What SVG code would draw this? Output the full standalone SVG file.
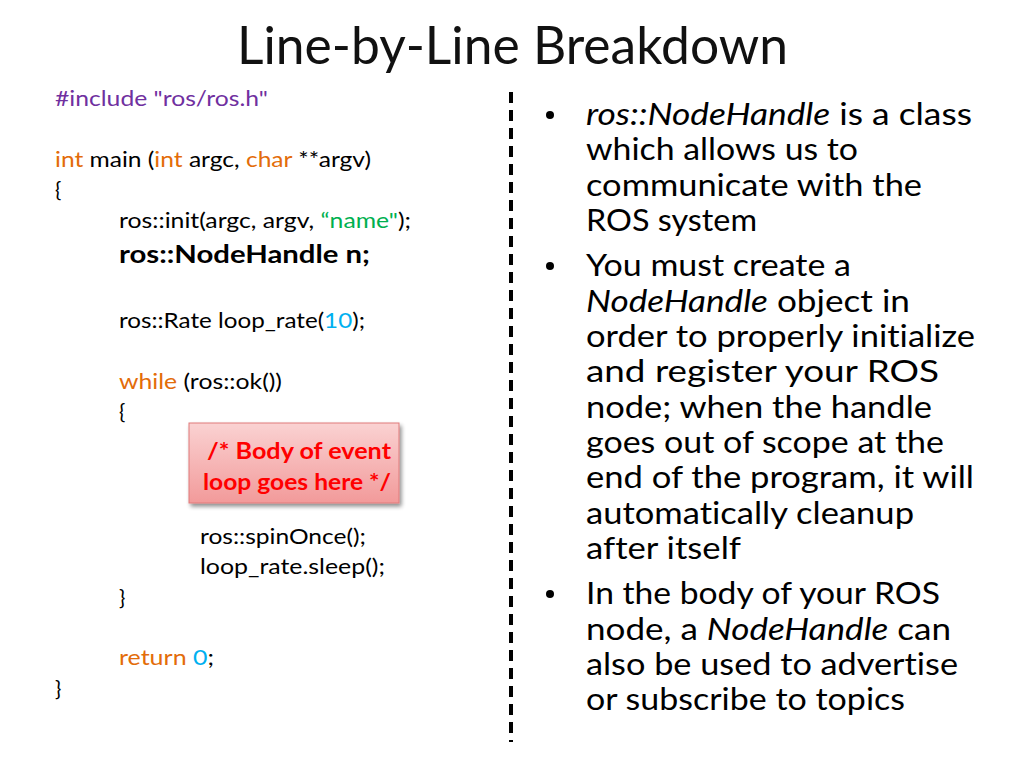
<svg xmlns="http://www.w3.org/2000/svg" width="1024" height="768" viewBox="0 0 1024 768">
<defs>
<style>
text{font-family:Lato,"Liberation Sans","DejaVu Sans",sans-serif;fill:#000;font-variant-ligatures:none;font-feature-settings:"liga" 0}
.title{font-size:52px;fill:#111}
.code{font-size:21px}
.big{font-size:25px;font-weight:bold}
.kw{fill:#e36c09}
.inc{fill:#7030a0}
.str{fill:#00b050}
.num{fill:#00b0f0}
.note{font-size:22px;font-weight:bold;fill:#ff0000}
.body{font-size:31px}
.it{font-style:italic}
</style>
<linearGradient id="redgrad" x1="0" y1="0" x2="0" y2="1">
<stop offset="0" stop-color="#fad2d2"/>
<stop offset="1" stop-color="#f29a9a"/>
</linearGradient>
<filter id="shadow" x="-10%" y="-10%" width="130%" height="140%">
<feGaussianBlur in="SourceAlpha" stdDeviation="2"/>
<feOffset dx="2" dy="3" result="b"/>
<feComponentTransfer><feFuncA type="linear" slope="0.45"/></feComponentTransfer>
<feMerge><feMergeNode/><feMergeNode in="SourceGraphic"/></feMerge>
</filter>
</defs>
<rect width="1024" height="768" fill="#fff"/>

<text class="title" x="237" y="64" textLength="551" lengthAdjust="spacingAndGlyphs">Line-by-Line Breakdown</text>

<g id="code">
<text class="code inc" x="55" y="106" textLength="213" lengthAdjust="spacingAndGlyphs">#include "ros/ros.h"</text>
<text class="code" x="55" y="167" textLength="316" lengthAdjust="spacingAndGlyphs"><tspan class="kw">int</tspan> main (<tspan class="kw">int</tspan> argc, <tspan class="kw">char</tspan> **argv)</text>
<text class="code" x="55" y="197">{</text>
<text class="code" x="119" y="228" textLength="292" lengthAdjust="spacingAndGlyphs">ros::init(argc, argv, <tspan class="str">“name"</tspan>);</text>
<text class="big" x="119" y="263" textLength="251" lengthAdjust="spacingAndGlyphs">ros::NodeHandle n;</text>
<text class="code" x="119" y="328" textLength="246" lengthAdjust="spacingAndGlyphs">ros::Rate loop_rate(<tspan class="num">10</tspan>);</text>
<text class="code" x="119" y="389" textLength="163" lengthAdjust="spacingAndGlyphs"><tspan class="kw">while</tspan> (ros::ok())</text>
<text class="code" x="119" y="419">{</text>
<text class="code" x="200" y="544" textLength="166" lengthAdjust="spacingAndGlyphs">ros::spinOnce();</text>
<text class="code" x="200" y="574" textLength="185" lengthAdjust="spacingAndGlyphs">loop_rate.sleep();</text>
<text class="code" x="119" y="605">}</text>
<text class="code" x="119" y="665" textLength="95" lengthAdjust="spacingAndGlyphs"><tspan class="kw">return</tspan> <tspan class="num">0</tspan>;</text>
<text class="code" x="55" y="696">}</text>
</g>

<g id="note">
<rect x="189" y="423" width="210" height="80" fill="url(#redgrad)" stroke="#e07a7a" stroke-width="1" filter="url(#shadow)"/>
<text class="note" x="207" y="459" textLength="184" lengthAdjust="spacingAndGlyphs">/* Body of event</text>
<text class="note" x="203" y="490" textLength="188" lengthAdjust="spacingAndGlyphs">loop goes here */</text>
</g>

<line id="divider" x1="511" y1="92" x2="511" y2="742" stroke="#000" stroke-width="4" stroke-dasharray="11 7"/>

<g id="bullets">
<circle cx="550" cy="115" r="4"/>
<circle cx="550" cy="266" r="4"/>
<circle cx="550" cy="594" r="4"/>
<text class="body" x="586" y="125" textLength="386" lengthAdjust="spacingAndGlyphs"><tspan class="it">ros::NodeHandle</tspan> is a class</text>
<text class="body" x="586" y="160" textLength="272" lengthAdjust="spacingAndGlyphs">which allows us to</text>
<text class="body" x="586" y="196" textLength="336" lengthAdjust="spacingAndGlyphs">communicate with the</text>
<text class="body" x="586" y="231" textLength="171" lengthAdjust="spacingAndGlyphs">ROS system</text>
<text class="body" x="586" y="276" textLength="265" lengthAdjust="spacingAndGlyphs">You must create a</text>
<text class="body" x="586" y="312" textLength="324" lengthAdjust="spacingAndGlyphs"><tspan class="it">NodeHandle</tspan> object in</text>
<text class="body" x="586" y="347" textLength="389" lengthAdjust="spacingAndGlyphs">order to properly initialize</text>
<text class="body" x="586" y="382" textLength="353" lengthAdjust="spacingAndGlyphs">and register your ROS</text>
<text class="body" x="586" y="418" textLength="346" lengthAdjust="spacingAndGlyphs">node; when the handle</text>
<text class="body" x="586" y="453" textLength="358" lengthAdjust="spacingAndGlyphs">goes out of scope at the</text>
<text class="body" x="586" y="488" textLength="388" lengthAdjust="spacingAndGlyphs">end of the program, it will</text>
<text class="body" x="586" y="524" textLength="328" lengthAdjust="spacingAndGlyphs">automatically cleanup</text>
<text class="body" x="586" y="559" textLength="155" lengthAdjust="spacingAndGlyphs">after itself</text>
<text class="body" x="586" y="604" textLength="354" lengthAdjust="spacingAndGlyphs">In the body of your ROS</text>
<text class="body" x="586" y="640" textLength="365" lengthAdjust="spacingAndGlyphs">node, a <tspan class="it">NodeHandle</tspan> can</text>
<text class="body" x="586" y="675" textLength="372" lengthAdjust="spacingAndGlyphs">also be used to advertise</text>
<text class="body" x="586" y="710" textLength="319" lengthAdjust="spacingAndGlyphs">or subscribe to topics</text>
</g>
</svg>
